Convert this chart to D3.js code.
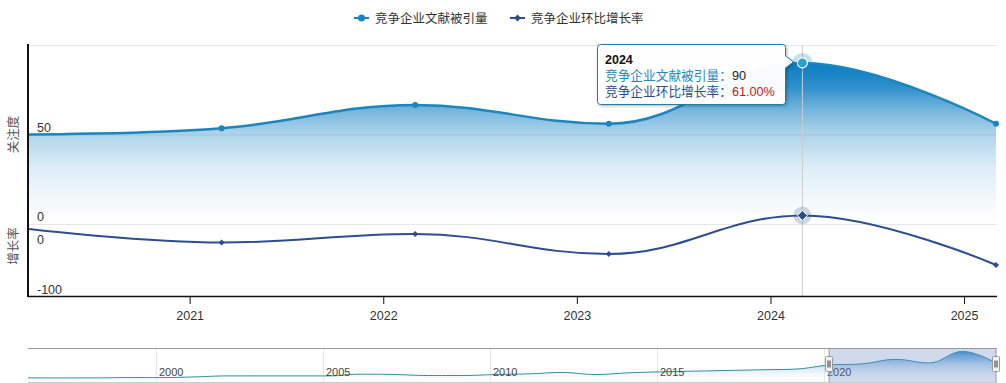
<!DOCTYPE html>
<html><head><meta charset="utf-8">
<script src="https://cdn.jsdelivr.net/npm/d3@7"></script>
<style>
html,body{margin:0;padding:0;background:#fff;}
svg{display:block;font-family:"Liberation Sans","Noto Sans CJK SC",Arial,sans-serif;}
</style></head><body>
<svg id="c" width="1006" height="383"></svg>
<script>
// ---- data ----
const years = [2020, 2021, 2022, 2023, 2024, 2025];
const citations = [50, 53.5, 66.5, 56, 90, 56];
const growth = [34, 7, 24, -16, 61, -38];
const historyYears = [1996,1997,1998,1999,2000,2001,2002,2003,2004,2005,2006,2007,2008,2009,2010,2011,2012,2013,2014,2015,2016,2017,2018,2019];
const historyCitations = [12,12,12,13,13,15,18,18,18,18,23,22,19,19,22,24,28,22,27,30,32,34,36,38];
const xTicks = [2021, 2022, 2023, 2024, 2025];
const navTicks = [2000, 2005, 2010, 2015, 2020];
const topTicks = [0, 50, 100];
const topLabels = [0, 50];
const bottomLabels = [0, -100];
const seriesNames = ["竞争企业文献被引量", "竞争企业环比增长率"];
const axisTitles = ["关注度", "增长率"];
const hoverIndex = 4;

const C1 = "#1a86bd", C2 = "#2c4e8e";
const OFF = 0.165; // points sit a bit after Jan 1

const svg = d3.select("#c");
const L = 28, R = 996;
const x = d3.scaleLinear().domain([2020 + OFF, 2025 + OFF]).range([L, R]);
const yTop = d3.scaleLinear().domain([0, 100]).range([224, 45]);
const yBot = d3.scaleLinear().domain([-100, 100]).range([296, 196]);
const xNav = d3.scaleLinear().domain([1996 + OFF, 2025 + OFF]).range([L, R]);
const yNav = d3.scaleLinear().domain([0, 100]).range([382, 348]);

// Highcharts-like spline curve
function HCSpline(ctx){ this._context = ctx; }
HCSpline.prototype = {
  areaStart(){ this._line = 0; },
  areaEnd(){ this._line = NaN; },
  lineStart(){ this._pts = []; },
  point(px, py){ this._pts.push([+px, +py]); },
  lineEnd(){
    const p = this._pts, c = this._context, n = p.length;
    if (n) {
      if (this._line) c.lineTo(p[0][0], p[0][1]); else c.moveTo(p[0][0], p[0][1]);
      const sm = 1.5, den = sm + 1;
      const lc = [], rc = [];
      for (let i = 0; i < n; i++) {
        if (i === 0 || i === n - 1) { lc[i] = p[i]; rc[i] = p[i]; continue; }
        const [lx, ly] = p[i-1], [px, py] = p[i], [nx, ny] = p[i+1];
        let lcx = (sm*px + lx)/den, lcy = (sm*py + ly)/den;
        let rcx = (sm*px + nx)/den, rcy = (sm*py + ny)/den;
        if (rcx !== lcx) {
          const corr = ((rcy - lcy) * (rcx - px)) / (rcx - lcx) + py - rcy;
          lcy += corr; rcy += corr;
          if (lcy > ly && lcy > py) { lcy = Math.max(ly, py); rcy = 2*py - lcy; }
          else if (lcy < ly && lcy < py) { lcy = Math.min(ly, py); rcy = 2*py - lcy; }
          if (rcy > ny && rcy > py) { rcy = Math.max(ny, py); lcy = 2*py - rcy; }
          else if (rcy < ny && rcy < py) { rcy = Math.min(ny, py); lcy = 2*py - rcy; }
        }
        lc[i] = [lcx, lcy]; rc[i] = [rcx, rcy];
      }
      for (let i = 1; i < n; i++) {
        c.bezierCurveTo(rc[i-1][0], rc[i-1][1], lc[i][0], lc[i][1], p[i][0], p[i][1]);
      }
    }
    if (this._line || (this._line !== 0 && n === 1)) c.closePath();
    this._line = 1 - this._line;
  }
};
const hcCurve = ctx => new HCSpline(ctx);

const defs = svg.append("defs");
const g1 = defs.append("linearGradient").attr("id","gTop").attr("x1",0).attr("y1",0).attr("x2",0).attr("y2",1);
[[0,1],[0.15,0.85],[0.3,0.55],[0.45,0.32],[0.65,0.14],[0.85,0.05],[1,0]].forEach(([o,op]) =>
  g1.append("stop").attr("offset", o).attr("stop-color","#0a7cc2").attr("stop-opacity", op));
const g2 = defs.append("linearGradient").attr("id","gNav").attr("x1",0).attr("y1",0).attr("x2",0).attr("y2",1);
g2.append("stop").attr("offset","0").attr("stop-color","#1a7fd0").attr("stop-opacity",1);
g2.append("stop").attr("offset","1").attr("stop-color","#ffffff").attr("stop-opacity",0);
const shadow = defs.append("filter").attr("id","sh").attr("x","-10%").attr("y","-10%").attr("width","130%").attr("height","140%");
shadow.append("feDropShadow").attr("dx",1).attr("dy",1).attr("stdDeviation",1.5).attr("flood-color","#000").attr("flood-opacity",0.3);
defs.append("clipPath").attr("id","plot").append("rect").attr("x", L + 1).attr("y", 0).attr("width", R - L + 10).attr("height", 300);

// grid lines (top pane)
svg.append("g").selectAll("line").data(topTicks).join("line")
  .attr("x1", L).attr("x2", R + 1).attr("y1", d => yTop(d) + 0.5).attr("y2", d => yTop(d) + 0.5)
  .attr("stroke", "#e6e6e6");

const topData = years.map((yr, i) => ({x: yr + OFF, v: citations[i]}));
const botData = years.map((yr, i) => ({x: yr + OFF, v: growth[i]}));

const plot = svg.append("g").attr("clip-path", "url(#plot)");
// area top
const areaTop = d3.area().x(d => x(d.x)).y0(yTop(0)).y1(d => yTop(d.v)).curve(hcCurve);
plot.append("path").datum(topData).attr("d", areaTop).attr("fill", "url(#gTop)");
const lineTop = d3.line().x(d => x(d.x)).y(d => yTop(d.v)).curve(hcCurve);
plot.append("path").datum(topData).attr("d", lineTop).attr("fill","none").attr("stroke", C1).attr("stroke-width", 2.5);

// bottom line
const lineBot = d3.line().x(d => x(d.x)).y(d => yBot(d.v)).curve(hcCurve);
plot.append("path").datum(botData).attr("d", lineBot).attr("fill","none").attr("stroke", C2).attr("stroke-width", 2);

// crosshair
plot.append("line").attr("x1", x(topData[hoverIndex].x)).attr("x2", x(topData[hoverIndex].x))
  .attr("y1", 45).attr("y2", 296).attr("stroke", "#cccccc").attr("stroke-width", 1);

// markers (the first point sits under the axis line and is hidden)
const mTop = topData.filter((d, i) => i > 0);
const mBot = botData.filter((d, i) => i > 0);
plot.append("g").selectAll("circle").data(mTop).join("circle")
  .attr("cx", d => x(d.x)).attr("cy", d => yTop(d.v)).attr("r", 3).attr("fill", C1);
const diamond = s => `M0,${-s}L${s},0L0,${s}L${-s},0Z`;
plot.append("g").selectAll("path").data(mBot).join("path")
  .attr("transform", d => `translate(${x(d.x)},${yBot(d.v)})`).attr("d", diamond(3)).attr("fill", C2);

// hover markers
const hT = topData[hoverIndex], hB = botData[hoverIndex];
svg.append("circle").attr("cx", x(hT.x)).attr("cy", yTop(hT.v)).attr("r", 10).attr("fill", C1).attr("opacity", 0.25);
svg.append("circle").attr("cx", x(hT.x)).attr("cy", yTop(hT.v)).attr("r", 5).attr("fill", "#2a9fd0").attr("stroke", "#ffffff").attr("stroke-width", 1.2);
svg.append("circle").attr("cx", x(hB.x)).attr("cy", yBot(hB.v)).attr("r", 9).attr("fill", C2).attr("opacity", 0.22);
svg.append("path").attr("transform", `translate(${x(hB.x)},${yBot(hB.v)})`).attr("d", diamond(5)).attr("fill", C2).attr("stroke","#fff").attr("stroke-width",1);

// axes lines
svg.append("line").attr("x1", L).attr("x2", L).attr("y1", 44).attr("y2", 297).attr("stroke", "#111").attr("stroke-width", 2);
const xAxis = d3.axisBottom(x).tickValues(xTicks.map(t => t)).tickFormat(d3.format("d")).tickSize(8).tickPadding(7);
const xa = svg.append("g").attr("transform", "translate(0,296)").call(xAxis);
xa.select(".domain").attr("d", `M${L},0.5H${R+1}`).attr("stroke", "#111").attr("stroke-width", 1.5);
xa.selectAll(".tick line").attr("stroke", "#111");
xa.selectAll(".tick text").attr("fill", "#333").attr("font-size", 12.5).attr("font-family", "Liberation Sans, Arial, sans-serif");

// y labels
svg.append("g").selectAll("text").data(topLabels).join("text")
  .attr("x", 37).attr("y", d => yTop(d) - 3).text(d => d)
  .attr("fill", "#333").attr("font-size", 12.5);
svg.append("g").selectAll("text").data(bottomLabels).join("text")
  .attr("x", 37).attr("y", d => yBot(d) - 2).text(d => d)
  .attr("fill", "#333").attr("font-size", 12.5);

// axis titles
svg.append("text").attr("transform", `translate(18,${yTop(50)}) rotate(-90)`).attr("text-anchor","middle")
  .attr("fill","#555").attr("font-size", 12.5).text(axisTitles[0]);
svg.append("text").attr("transform", `translate(18,${yBot(0)}) rotate(-90)`).attr("text-anchor","middle")
  .attr("fill","#555").attr("font-size", 12.5).text(axisTitles[1]);

// legend
const lg = svg.append("g").attr("font-size", 12.5).attr("fill", "#333");
const leg = [{x: 354, c: C1, m: "c", n: seriesNames[0]}, {x: 510, c: C2, m: "d", n: seriesNames[1]}];
leg.forEach(l => {
  lg.append("line").attr("x1", l.x).attr("x2", l.x + 15).attr("y1", 18).attr("y2", 18).attr("stroke", l.c).attr("stroke-width", 2);
  if (l.m === "c") lg.append("circle").attr("cx", l.x + 7.5).attr("cy", 18).attr("r", 3.5).attr("fill", l.c);
  else lg.append("path").attr("transform", `translate(${l.x + 7.5},18)`).attr("d", diamond(3.5)).attr("fill", l.c);
  lg.append("text").attr("x", l.x + 21).attr("y", 22.5).text(l.n);
});

// tooltip
const tx = 597.5, ty = 44.5, tw = 188, th = 60;
const ax = x(hT.x) - 9, ay = yTop(hT.v) - 1;
const r = 3;
const tipPath = `M${tx+r},${ty}H${tx+tw-r}Q${tx+tw},${ty} ${tx+tw},${ty+r}V${ay-6}L${ax},${ay}L${tx+tw},${ay+6}V${ty+th-r}Q${tx+tw},${ty+th} ${tx+tw-r},${ty+th}H${tx+r}Q${tx},${ty+th} ${tx},${ty+th-r}V${ty+r}Q${tx},${ty} ${tx+r},${ty}Z`;
const tg = svg.append("g");
tg.append("path").attr("d", tipPath).attr("fill", "rgba(255,255,255,0.97)").attr("stroke", "#1d7fa6").attr("stroke-width", 1).attr("filter","url(#sh)");
tg.append("text").attr("x", 605).attr("y", 64).attr("font-weight","bold").attr("font-size", 12.5).attr("fill","#111").text(String(years[hoverIndex]));
const t2 = tg.append("text").attr("x", 605).attr("y", 80).attr("font-size", 12.7);
t2.append("tspan").attr("fill", "#1a8ab8").text(seriesNames[0] + "：");
t2.append("tspan").attr("fill", "#222").text(String(citations[hoverIndex]));
const t3 = tg.append("text").attr("x", 605).attr("y", 96).attr("font-size", 12.7);
t3.append("tspan").attr("fill", C2).text(seriesNames[1] + "：");
t3.append("tspan").attr("fill", "#c8181e").text(growth[hoverIndex].toFixed(2) + "%");

// navigator
const nav = svg.append("g");
nav.selectAll("line.ng").data(navTicks).join("line").attr("class","ng")
  .attr("x1", d => Math.round(xNav(d)) + 0.5).attr("x2", d => Math.round(xNav(d)) + 0.5)
  .attr("y1", 348).attr("y2", 382).attr("stroke", "#e6e6e6");
const navData = historyYears.map((yr, i) => ({x: yr + OFF, v: historyCitations[i]}))
  .concat(years.map((yr, i) => ({x: yr + OFF, v: citations[i]})));
const navArea = d3.area().x(d => xNav(d.x)).y0(382).y1(d => yNav(d.v)).curve(hcCurve);
nav.append("path").datum(navData).attr("d", navArea).attr("fill", "url(#gNav)").attr("opacity", 0.85);
const navLine = d3.line().x(d => xNav(d.x)).y(d => yNav(d.v)).curve(hcCurve);
nav.append("path").datum(navData).attr("d", navLine).attr("fill","none").attr("stroke","#2b8fa3").attr("stroke-width",1);
nav.selectAll("text").data(navTicks).join("text")
  .attr("x", d => Math.round(xNav(d)) + 3).attr("y", 376).text(d => d)
  .attr("fill", "#444").attr("font-size", 11);
const sx0 = xNav(2020 + OFF), sx1 = xNav(2025 + OFF);
nav.append("rect").attr("x", sx0).attr("y", 348).attr("width", sx1 - sx0).attr("height", 34)
  .attr("fill", "rgba(102,133,194,0.3)");
nav.append("line").attr("x1", L).attr("x2", R + 1).attr("y1", 348.5).attr("y2", 348.5).attr("stroke", "#999");
nav.append("line").attr("x1", L).attr("x2", R + 1).attr("y1", 382.5).attr("y2", 382.5).attr("stroke", "#ccc");
nav.append("line").attr("x1", sx0).attr("x2", sx0).attr("y1", 348).attr("y2", 382).attr("stroke", "#999");
nav.append("line").attr("x1", sx1).attr("x2", sx1).attr("y1", 348).attr("y2", 382).attr("stroke", "#999");
[sx0, sx1].forEach(hx => {
  const hg = nav.append("g").attr("transform", `translate(${Math.round(hx) - 3.5},356.5)`);
  hg.append("rect").attr("width", 7).attr("height", 15).attr("rx", 1).attr("fill", "#f2f2f2").attr("stroke", "#999");
  hg.append("line").attr("x1", 2.5).attr("x2", 2.5).attr("y1", 4).attr("y2", 11).attr("stroke", "#333");
  hg.append("line").attr("x1", 4.5).attr("x2", 4.5).attr("y1", 4).attr("y2", 11).attr("stroke", "#333");
});
</script></body></html>
